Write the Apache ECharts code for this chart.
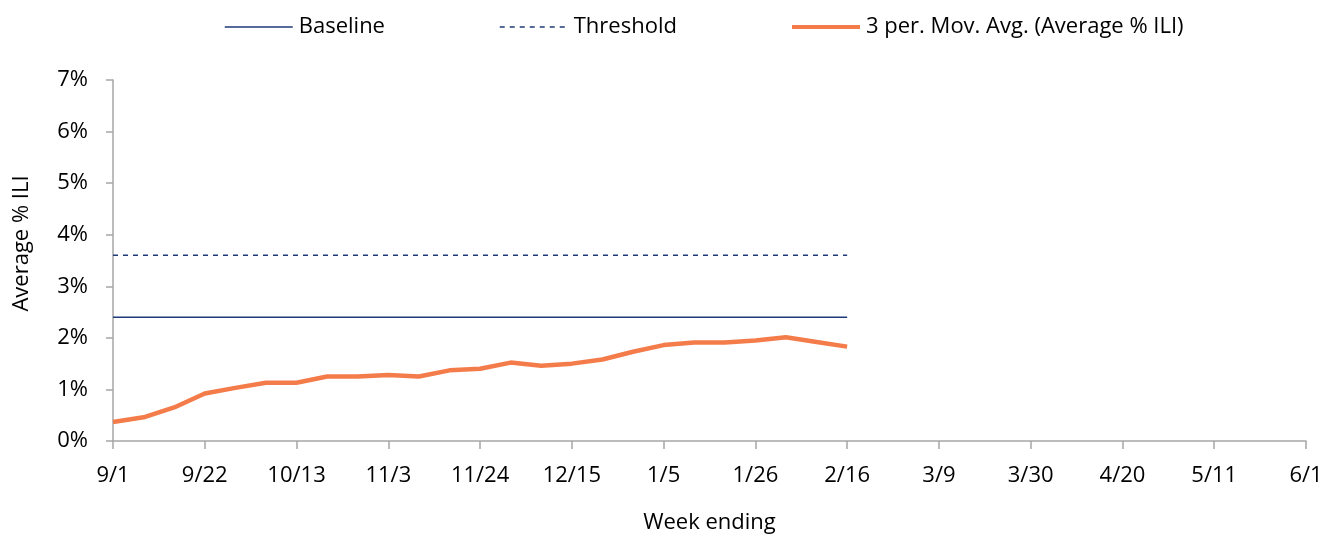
<!DOCTYPE html>
<html>
<head>
<meta charset="utf-8">
<script src="https://cdn.jsdelivr.net/npm/echarts@6/dist/echarts.min.js"></script>
<style>
  html, body { margin: 0; padding: 0; background: #fff; }
  #chart { width: 1328px; height: 539px; }
</style>
</head>
<body>
<div id="chart"></div>
<script>
var weeks = ['9/1','9/8','9/15','9/22','9/29','10/6','10/13','10/20','10/27','11/3',
    '11/10','11/17','11/24','12/1','12/8','12/15','12/22','12/29','1/5','1/12',
    '1/19','1/26','2/2','2/9','2/16','2/23','3/2','3/9','3/16','3/23',
    '3/30','4/6','4/13','4/20','4/27','5/4','5/11','5/18','5/25','6/1'];

// % ILI, 3 period moving average
var movAvg = [0.37, 0.46, 0.65, 0.92, 1.03, 1.13, 1.13, 1.25, 1.25, 1.28,
    1.25, 1.37, 1.40, 1.52, 1.46, 1.50, 1.58, 1.73, 1.86, 1.91,
    1.91, 1.95, 2.01, 1.92, 1.83];
var baselineValue = 2.4;
var thresholdValue = 3.6;

var baseline = movAvg.map(function(){ return baselineValue; });
var threshold = movAvg.map(function(){ return thresholdValue; });

var font = "'Open Sans', sans-serif";
var axisGray = '#a6a6a6';
var navy = '#1f3a78';
var orange = '#f47c4b';

// one legend per item so each can sit where the original has it
function legendItem(name, left, lineWidth){
    return {
        top: 11,
        left: left,
        itemWidth: 68,
        itemHeight: 14,
        itemStyle: { opacity: 0 },
        lineStyle: { width: lineWidth },
        textStyle: { fontSize: 22, color: '#000', fontFamily: font, padding: [0, 0, 0, 1] },
        data: [name]
    };
}

var myChart = echarts.init(document.getElementById('chart'));
var option = {
    animation: false,
    textStyle: { fontFamily: font },
    legend: [
        legendItem('Baseline', 219, 1.5),
        legendItem('Threshold', 494, 1.5),
        legendItem('3 per. Mov. Avg. (Average % ILI)', 785, 4)
    ],
    grid: {
        left: 113,
        right: 22,
        top: 80,
        bottom: 87,
        containLabel: false
    },
    xAxis: {
        type: 'category',
        boundaryGap: false,
        data: weeks,
        name: 'Week ending',
        nameLocation: 'middle',
        nameGap: 71,
        nameTextStyle: { fontSize: 22, color: '#000' },
        axisLine: { lineStyle: { color: axisGray, width: 1.5 } },
        axisTick: { interval: 2, length: 8, lineStyle: { color: axisGray, width: 1.5 } },
        axisLabel: { interval: 2, fontSize: 22, color: '#000', margin: 24 },
        splitLine: { show: false }
    },
    yAxis: {
        type: 'value',
        min: 0,
        max: 7,
        interval: 1,
        name: 'Average % ILI',
        nameLocation: 'middle',
        nameGap: 80,
        nameTextStyle: { fontSize: 22, color: '#000', padding: [0, 0, 0, 34] },
        axisLine: { show: true, lineStyle: { color: axisGray, width: 1.5 } },
        axisTick: { show: true, length: 7, lineStyle: { color: axisGray, width: 1.5 } },
        axisLabel: { fontSize: 22, color: '#000', margin: 25, formatter: '{value}%' },
        splitLine: { show: false }
    },
    series: [
        {
            name: 'Baseline',
            type: 'line',
            data: baseline,
            symbol: 'none',
            lineStyle: { color: navy, width: 1.5 },
            itemStyle: { color: navy }
        },
        {
            name: 'Threshold',
            type: 'line',
            data: threshold,
            symbol: 'none',
            lineStyle: { color: navy, width: 1.5, type: [5, 5] },
            itemStyle: { color: navy }
        },
        {
            name: '3 per. Mov. Avg. (Average % ILI)',
            type: 'line',
            data: movAvg,
            symbol: 'none',
            lineStyle: { color: orange, width: 4.5 },
            itemStyle: { color: orange }
        }
    ]
};
myChart.setOption(option);
</script>
</body>
</html>
